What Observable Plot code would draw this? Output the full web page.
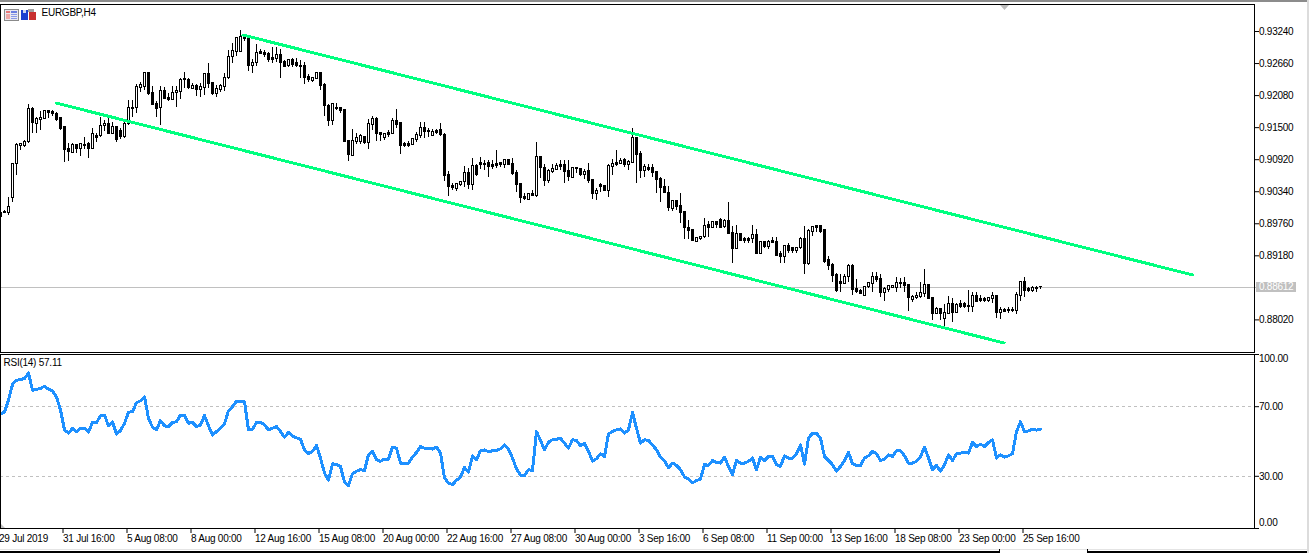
<!DOCTYPE html>
<html>
<head>
<meta charset="utf-8">
<script src="https://cdn.jsdelivr.net/npm/d3@7"></script>
<script src="https://cdn.jsdelivr.net/npm/@observablehq/plot@0.6"></script>
<style>
html,body{margin:0;padding:0;background:#fff;overflow:hidden}
#stage{position:relative;width:1309px;height:553px;overflow:hidden;background:#fff}
#stage svg.plot{position:absolute;left:0;top:0;background:transparent;max-width:none}
.chrome{position:absolute}
</style>
</head>
<body>
<div id="stage"></div>
<script>
const symbol = "EURGBP,H4";
// prices in points (1 point = 0.00001)
const opens = [
89955,89973,89955,90226,90842,91167,91167,91240,91837,91566,
91638,91656,91801,91783,91746,91674,91511,91113,91041,91186,
91113,91186,91204,91113,91348,91348,91529,91566,91385,91511,
91439,91330,91566,91837,91855,92217,92235,92489,92127,91928,
91855,92163,92036,92000,92127,92145,92380,92362,92199,92253,
92181,92217,92471,92308,92109,92181,92235,92398,92778,92869,
92869,93140,93122,92615,92670,92869,92851,92833,92760,92742,
92815,92688,92615,92724,92670,92615,92615,92416,92344,92380,
92489,92272,91891,91620,91855,91855,91819,91258,90986,91240,
91240,91330,91222,91548,91656,91403,91312,91403,91385,91620,
91584,91204,91204,91186,91276,91348,91493,91439,91348,91439,
91457,91367,90642,90443,90389,90462,90516,90679,90462,90805,
90860,90842,90860,90824,90842,90860,90824,90914,90842,90679,
90480,90244,90190,90299,90262,90968,90769,90534,90697,90733,
90824,90824,90715,90588,90769,90751,90642,90715,90552,90299,
90462,90443,90353,90787,90860,90842,90914,90824,90860,91312,
91023,90715,90769,90769,90697,90570,90425,90317,90027,90172,
90081,89973,89683,89647,89430,89484,89520,89737,89683,89792,
89828,89701,89810,89593,89303,89575,89484,89484,89484,89557,
89213,89430,89339,89448,89430,89213,89158,89357,89321,89267,
89321,89484,89032,89611,89719,89719,89647,89104,89014,88833,
88706,88670,88796,88995,88579,88543,88452,88615,88670,88796,
88760,88507,88561,88597,88597,88688,88688,88651,88380,88416,
88434,88489,88651,88416,88127,88217,88036,88127,88308,88145,
88308,88308,88271,88253,88452,88398,88398,88362,88398,88452,
88145,88199,88199,88199,88181,88452,88706,88579,88543,88597,88615];
const highs = [
89991,90009,90244,90860,91204,91222,91276,91910,91873,91692,
91801,91819,91819,91819,91783,91692,91511,91222,91204,91186,
91204,91330,91240,91493,91403,91692,91638,91674,91602,91529,
91493,91602,92000,92000,92290,92326,92507,92507,92253,91982,
92253,92235,92127,92253,92253,92398,92507,92398,92308,92290,
92308,92489,92670,92326,92271,92290,92489,92905,93032,93140,
93267,93177,93140,92742,92996,92923,92905,92869,92959,92959,
92923,92724,92724,92760,92760,92724,92688,92471,92416,92507,
92507,92308,91910,91928,91946,91873,91819,91258,91475,91403,
91367,91348,91656,91710,91692,91421,91403,91457,91674,91837,
91602,91240,91258,91312,91421,91602,91602,91493,91475,91475,
91584,91403,90715,90480,90498,90516,90805,90769,90950,90824,
90968,90914,90914,90914,91095,90860,90914,90932,90950,90733,
90480,90299,90299,90371,91240,90986,90824,90751,90824,90842,
90914,90914,90914,90787,90787,90769,90751,90842,90570,90407,
90480,90443,90824,90932,91095,90950,90950,90914,91493,91330,
91077,90824,90824,90824,90715,90606,90570,90443,90190,90190,
90299,89991,89828,89647,89520,89538,89864,89810,89810,89810,
89864,89846,90154,89719,89737,89593,89520,89520,89737,89665,
89448,89448,89466,89520,89520,89267,89357,89394,89321,89321,
89520,89719,89665,89719,89719,89737,89665,89176,89032,88851,
88833,88833,89014,89014,88760,88579,88633,88706,88869,88887,
88833,88615,88651,88651,88796,88778,88796,88651,88470,88525,
88688,88941,88651,88434,88253,88235,88290,88452,88416,88308,
88380,88344,88561,88507,88525,88470,88434,88434,88507,88452,
88253,88235,88253,88253,88507,88724,88796,88615,88633,88633,88615];
const lows = [
89828,89937,89901,90154,90642,91095,91149,91222,91403,91403,
91457,91656,91674,91710,91620,91457,90878,90896,91041,91023,
90986,91113,90950,91113,91240,91330,91439,91385,91367,91240,
91294,91312,91547,91692,91765,92145,92181,92090,91910,91692,
91547,92018,91982,92000,91873,92018,92217,92199,92199,92072,
92054,92090,92217,92090,92054,92145,92163,92380,92670,92796,
92869,93068,92525,92489,92615,92815,92778,92688,92670,92688,
92398,92597,92597,92597,92597,92398,92272,92326,92326,92380,
92181,91710,91529,91547,91819,91765,91240,90896,90986,91186,
91186,91186,91113,91457,91258,91258,91276,91330,91385,91493,
91005,91149,91149,91186,91240,91312,91312,91330,91348,91367,
91348,90534,90262,90371,90353,90443,90425,90389,90371,90624,
90751,90733,90606,90751,90769,90787,90769,90824,90642,90335,
90136,90190,90190,90262,90244,90588,90443,90498,90678,90733,
90733,90498,90534,90588,90678,90624,90570,90480,90208,90190,
90335,90353,90244,90642,90805,90842,90787,90733,90842,90480,
90588,90606,90715,90606,90317,90154,90299,89991,89991,90009,
89774,89484,89484,89448,89430,89466,89502,89520,89683,89683,
89683,89683,89574,89032,89303,89448,89412,89394,89412,89195,
89195,89321,89303,89412,89176,89050,89032,89213,89213,89231,
89303,88833,88996,89538,89611,89593,89050,88923,88706,88525,
88525,88670,88688,88470,88489,88489,88452,88597,88507,88688,
88434,88362,88507,88597,88507,88597,88507,88181,88344,88398,
88416,88434,88398,88018,88109,88018,87892,88127,87982,88145,
88235,88235,88145,88145,88326,88344,88344,88344,88308,88054,
88036,88145,88127,88163,88109,88362,88434,88507,88507,88507,88579];
const closes = [
89882,89955,90063,90842,91186,91204,91240,91837,91584,91656,
91674,91801,91765,91746,91638,91475,91095,91059,91186,91113,
91204,91167,91113,91385,91312,91529,91566,91385,91511,91276,
91330,91566,91855,91855,92235,92272,92489,92109,91910,91837,
92163,92018,92000,92127,92163,92362,92362,92217,92253,92181,
92235,92471,92290,92109,92199,92253,92398,92778,92887,93122,
93140,93104,92615,92670,92851,92833,92815,92724,92724,92815,
92670,92597,92724,92634,92615,92597,92398,92362,92398,92489,
92253,91891,91620,91928,91837,91801,91240,91005,91258,91312,
91348,91222,91566,91656,91385,91367,91385,91367,91620,91548,
91167,91167,91167,91294,91367,91493,91421,91421,91421,91403,
91367,90624,90425,90407,90480,90516,90679,90462,90805,90642,
90824,90824,90787,90787,90805,90824,90914,90824,90661,90462,
90226,90208,90299,90262,90968,90769,90534,90715,90751,90805,
90787,90697,90606,90769,90751,90642,90697,90534,90299,90353,
90425,90353,90805,90842,90824,90896,90824,90878,91312,91005,
90715,90787,90733,90679,90552,90407,90317,90045,90172,90063,
89955,89683,89629,89448,89502,89520,89719,89683,89792,89737,
89683,89810,89575,89303,89575,89448,89448,89448,89557,89213,
89430,89339,89430,89412,89176,89158,89357,89267,89267,89321,
89484,89032,89629,89701,89683,89611,89068,88995,88814,88543,
88670,88796,88995,88561,88525,88489,88615,88688,88796,88742,
88507,88579,88633,88633,88688,88670,88633,88416,88434,88452,
88507,88651,88398,88127,88217,88127,88145,88308,88145,88290,
88253,88253,88253,88452,88344,88362,88362,88416,88452,88145,
88199,88163,88181,88181,88471,88706,88543,88543,88597,88579,88612];
const rsi = [
65.8,66.8,73.8,82.8,85.2,85.6,86.2,89.4,79.5,79.9,
80.5,81.8,80.1,79.1,75.7,68.1,56.7,54.8,57.6,55.7,
57.6,57.6,55.5,61.0,60.9,64.7,65.2,59.0,61.4,54.2,
56.3,60.5,66.8,67.2,72.3,73.4,75.7,63.3,58.2,56.7,
62.0,59.0,58.6,60.9,61.4,65.2,65.2,60.5,61.0,58.6,
59.5,64.9,59.0,53.6,55.7,57.6,60.1,67.7,70.0,73.2,
73.2,72.9,56.7,57.0,60.9,61.2,59.5,56.7,57.6,58.6,
55.7,52.5,55.2,53.2,52.1,51.3,45.2,43.1,44.3,47.7,
40.5,31.9,27.7,37.2,36.7,35.7,26.6,24.7,31.5,32.9,
33.8,33.4,42.4,44.3,39.5,38.6,39.9,39.9,46.8,46.2,
37.6,37.6,37.6,41.0,43.7,47.1,46.2,46.0,45.6,46.8,
43.3,29.0,26.2,25.2,27.7,29.6,35.1,32.3,41.8,39.5,
44.7,45.2,44.1,44.7,44.9,45.8,48.1,45.6,40.5,34.2,
30.6,30.4,33.8,33.4,55.7,50.6,45.2,49.6,51.0,51.3,
51.9,49.0,46.2,51.0,50.6,47.5,49.0,44.3,38.6,40.1,
43.0,41.4,54.4,55.7,56.7,57.2,54.8,56.7,66.6,57.6,
49.0,51.0,50.6,48.1,45.2,41.0,39.0,34.8,37.6,36.3,
33.8,29.6,28.5,26.2,27.5,28.5,36.7,36.3,39.1,38.0,
37.6,41.0,35.7,31.0,39.1,37.6,37.6,38.6,40.5,33.8,
41.0,39.1,41.4,41.4,36.7,35.7,41.8,40.5,40.5,43.0,
48.1,37.0,51.9,54.8,54.8,51.9,41.4,39.1,36.7,32.9,
35.7,39.1,43.7,37.2,36.3,36.1,40.5,41.8,44.3,43.0,
39.0,39.9,42.4,41.4,44.7,44.7,41.8,37.6,37.6,38.6,
41.4,46.6,40.5,33.8,36.3,32.9,36.7,42.4,39.0,43.0,
43.3,43.7,43.3,49.6,47.1,48.5,47.1,49.4,51.0,40.5,
42.4,41.0,41.8,43.0,55.7,61.4,55.7,56.1,57.0,56.5,57.11];

const timeLabels = ["29 Jul 2019","31 Jul 16:00","5 Aug 08:00","8 Aug 00:00","12 Aug 16:00","15 Aug 08:00","20 Aug 00:00","22 Aug 16:00","27 Aug 08:00","30 Aug 00:00","3 Sep 16:00","6 Sep 08:00","11 Sep 00:00","13 Sep 16:00","18 Sep 08:00","23 Sep 00:00","25 Sep 16:00"];
const barsPerLabel = 16;
const priceTicks = [0.9324,0.9266,0.9208,0.915,0.9092,0.9034,0.8976,0.8918,0.8802];
const rsiTicks = [100,70,30,0];
const rsiLevels = [70,30];
// trend channel anchor points: bar index, price
const upperBars = [60.6,298.1];
const upperPrices = [0.93177,0.88833];
const lowerBars = [13.9,250.9];
const lowerPrices = [0.91946,0.87602];

const FONT = "'Liberation Sans', Arial, sans-serif";
const W = 1309, H = 553;
const xDomain = [0, 313.5];
const mL = 0, mR = 55;
const lastIdx = closes.length - 1;
const lastPrice = closes[lastIdx] / 1e5;

const candles = opens.map((o, i) => ({i, open:o/1e5, high:highs[i]/1e5, low:lows[i]/1e5, close:closes[i]/1e5}));
const ups = candles.filter(d => d.close >= d.open);
const downs = candles.filter(d => d.close < d.open);
const rsiRows = rsi.map((v, i) => ({i, v}));
const upperRows = upperBars.map((b, k) => ({b, p: upperPrices[k]}));
const lowerRows = lowerBars.map((b, k) => ({b, p: lowerPrices[k]}));
const timeTicks = timeLabels.map((_, k) => k * barsPerLabel);

const svgStyle = {fontFamily: FONT, fontSize: "10px", background: "transparent", color: "#000", letterSpacing: "-0.25px"};
const crisp = {shapeRendering: "crispEdges"};

const pricePane = Plot.plot({
  width: W, height: H,
  marginTop: 4, marginBottom: H - 352, marginLeft: mL, marginRight: mR,
  style: svgStyle,
  x: {domain: xDomain, axis: null},
  y: {domain: [0.8743, 0.93729], axis: null},
  marks: [
    Plot.ruleY([lastPrice], {x1: 0, x2: 314.1, stroke: "#c0c0c0", strokeWidth: 1, ...crisp}),
    Plot.ruleX(candles, {x: "i", y1: "low", y2: "high", stroke: "#000", strokeWidth: 1, ...crisp}),
    Plot.rect(ups, {x1: d => d.i - 0.25, x2: d => d.i + 0.25, y1: "open", y2: "close", fill: "#fff", stroke: "#000", strokeWidth: 1, ...crisp}),
    Plot.rect(downs, {x1: d => d.i - 0.25, x2: d => d.i + 0.25, y1: "open", y2: "close", fill: "#000", stroke: "#000", strokeWidth: 1, ...crisp}),
    Plot.line(upperRows, {x: "b", y: "p", stroke: "#00ff7f", strokeWidth: 3, ...crisp}),
    Plot.line(lowerRows, {x: "b", y: "p", stroke: "#00ff7f", strokeWidth: 3, ...crisp}),
    Plot.frame({stroke: "#000", strokeWidth: 1}),
    Plot.axisY(priceTicks, {anchor: "right", tickSize: 4, tickPadding: 0.5, label: null, stroke: "#000", strokeOpacity: 1, fill: "#000", tickFormat: d => d.toFixed(5)}),
    Plot.ruleY([lastPrice], {x1: 314.1, x2: 323.9, stroke: "#c0c0c0", strokeWidth: 10, ...crisp}),
    Plot.text([lastPrice], {y: d => d, frameAnchor: "right", dx: 4.5, textAnchor: "start", fill: "#fff", text: d => d.toFixed(5)}),
    Plot.text([symbol], {frameAnchor: "top-left", dx: 41, dy: 4, textAnchor: "start", lineAnchor: "top", fill: "#000", text: d => d})
  ]
});
pricePane.classList.add("plot");

const rsiPane = Plot.plot({
  width: W, height: H,
  marginTop: 354, marginBottom: H - 528, marginLeft: mL, marginRight: mR,
  style: svgStyle,
  x: {domain: xDomain, axis: null},
  y: {domain: [0, 100], axis: null},
  marks: [
    Plot.ruleY(rsiLevels, {stroke: "#c0c0c0", strokeWidth: 1, strokeDasharray: "3 3", ...crisp}),
    Plot.line(rsiRows, {x: "i", y: "v", stroke: "#1e90ff", strokeWidth: 3, ...crisp}),
    Plot.frame({stroke: "#000", strokeWidth: 1}),
    Plot.axisY(rsiTicks, {anchor: "right", tickSize: 4, label: null, stroke: "#000", strokeOpacity: 1, tickFormat: () => ""}),
    Plot.text([100], {y: d => d, dy: 4.5, frameAnchor: "right", dx: 4.5, textAnchor: "start", fill: "#000", text: d => d.toFixed(2)}),
    Plot.text(rsiLevels, {y: d => d, frameAnchor: "right", dx: 4.5, textAnchor: "start", fill: "#000", text: d => d.toFixed(2)}),
    Plot.text([0], {y: d => d, dy: -6, frameAnchor: "right", dx: 4.5, textAnchor: "start", fill: "#000", text: d => d.toFixed(2)}),
    Plot.axisX(timeTicks, {anchor: "bottom", tickSize: 5, tickPadding: 1.5, dx: -1.5, label: null, stroke: "#000", strokeOpacity: 1, fill: "#000", textAnchor: "start",
      tickFormat: d => timeLabels[d / barsPerLabel]}),
    Plot.text([`RSI(14) ${rsi[lastIdx].toFixed(2)}`], {frameAnchor: "top-left", dx: 3, dy: 4, textAnchor: "start", lineAnchor: "top", fill: "#000", text: d => d})
  ]
});
rsiPane.classList.add("plot");

const stage = document.getElementById("stage");
function box(l, t, w, h, css) {
  const d = document.createElement("div");
  d.className = "chrome";
  d.style.cssText = `left:${l}px;top:${t}px;width:${w}px;height:${h}px;${css || ""}`;
  stage.appendChild(d);
  return d;
}
// window chrome
box(0, 0, W, 2, "background:#8c8c8c");
box(1307, 0, 2, H, "background:#dcdcdc");
box(0, 549, 1307, 1, "background:#e4e4e4");
stage.appendChild(pricePane);
stage.appendChild(rsiPane);
box(0, 551, 1000, 2, "background:#000");
box(1087, 551, 220, 2, "background:#000");
box(999, 549, 1, 4, "background:#000");
box(1087, 549, 1, 4, "background:#000");
// chart shift marker and corner marker
box(1000, 5, 9, 5, "background:#bdbdbd;clip-path:polygon(0 0,100% 0,50% 100%)");
box(1, 524, 4, 4, "background:#c0c0c0;clip-path:polygon(0 0,100% 100%,0 100%)");
// toolbar icons
const icon = box(4, 9, 33, 12);
icon.innerHTML = `<svg width="33" height="12" style="display:block" shape-rendering="crispEdges">
<rect x="0.5" y="0.5" width="14" height="11" fill="#e8e8f0" stroke="#8a8a8a"/>
<rect x="2" y="2" width="4" height="2" fill="#e87878"/><rect x="2" y="5" width="4" height="5" fill="#f0a8a8"/>
<rect x="7" y="2" width="6" height="2" fill="#6a7ee0"/><rect x="7" y="5" width="6" height="1" fill="#8a9ae8"/><rect x="7" y="7" width="6" height="1" fill="#8a9ae8"/><rect x="7" y="9" width="6" height="1" fill="#8a9ae8"/>
<rect x="17" y="1" width="7" height="10" fill="#1c3fd0"/><rect x="19" y="1" width="3" height="3" fill="#cfd6f0"/>
<rect x="25" y="3" width="7" height="8" fill="#c83030"/><rect x="24" y="0" width="6" height="3" fill="#a0a0a0"/>
</svg>`;
</script>
</body>
</html>
